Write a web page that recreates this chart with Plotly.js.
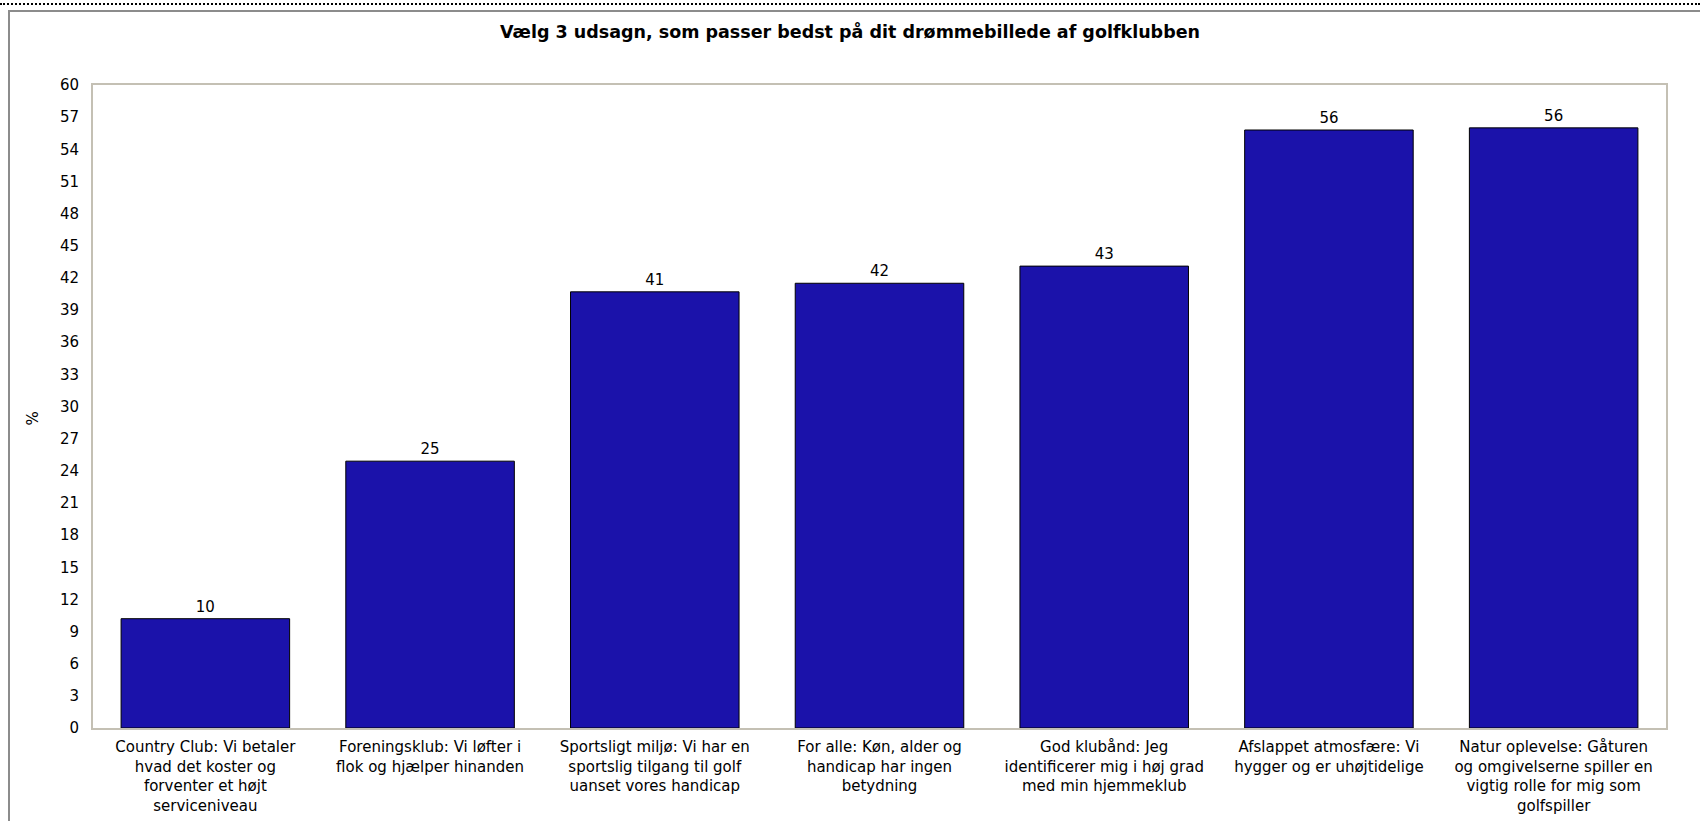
<!DOCTYPE html>
<html>
<head>
<meta charset="utf-8">
<script src="https://cdn.plot.ly/plotly-3.0.1.min.js"></script>
<style>
  html, body { margin: 0; padding: 0; background: #ffffff; }
  #chart { width: 1700px; height: 821px; position: absolute; left: 0; top: 0; }
  .dots { position: absolute; left: 0; top: 3px; width: 1700px; height: 0; border-top: 2px dotted #000; pointer-events: none; }
  .frameTop { position: absolute; left: 9px; top: 10px; width: 1691px; height: 0; border-top: 2px solid #8c8c8c; pointer-events: none; }
  .frameLeft { position: absolute; left: 8px; top: 10px; width: 0; height: 811px; border-left: 2px solid #8c8c8c; pointer-events: none; }
</style>
</head>
<body>
<div id="chart"></div>
<div class="dots"></div>
<div class="frameTop"></div>
<div class="frameLeft"></div>
<script>
const categories = [
  "Country Club: Vi betaler<br>hvad det koster og<br>forventer et højt<br>serviceniveau",
  "Foreningsklub: Vi løfter i<br>flok og hjælper hinanden",
  "Sportsligt miljø: Vi har en<br>sportslig tilgang til golf<br>uanset vores handicap",
  "For alle: Køn, alder og<br>handicap har ingen<br>betydning",
  "God klubånd: Jeg<br>identificerer mig i høj grad<br>med min hjemmeklub",
  "Afslappet atmosfære: Vi<br>hygger og er uhøjtidelige",
  "Natur oplevelse: Gåturen<br>og omgivelserne spiller en<br>vigtig rolle for mig som<br>golfspiller"
];
const values = [10.2, 24.9, 40.7, 41.5, 43.1, 55.8, 56.0];
const chartTitle = "Vælg 3 udsagn, som passer bedst på dit drømmebillede af golfklubben";
const yTitle = "%";

const FONT = "DejaVu Sans, Verdana, sans-serif";

const trace = {
  type: "bar",
  x: categories,
  y: values,
  marker: { color: "#1b12aa", line: { color: "#000000", width: 1 } },
  texttemplate: "%{y:.0f}",
  textposition: "outside",
  textfont: { family: FONT, size: 15, color: "#000" },
  cliponaxis: false,
  hoverinfo: "x+y"
};

const layout = {
  width: 1700,
  height: 821,
  margin: { l: 93, r: 34, t: 85, b: 93 },
  paper_bgcolor: "rgba(0,0,0,0)",
  plot_bgcolor: "#ffffff",
  bargap: 0.25,
  showlegend: false,
  font: { family: FONT, size: 15, color: "#000" },
  title: {
    text: "<b>" + chartTitle + "</b>",
    font: { family: FONT, size: 17.5, color: "#000" },
    x: 0.5, xref: "container", xanchor: "center",
    y: 1 - 32 / 821, yref: "container", yanchor: "middle"
  },
  xaxis: {
    showline: true, linecolor: "#c4c0b4", linewidth: 2, mirror: true,
    showgrid: false, ticks: "", ticklabelstandoff: 4,
    tickfont: { family: FONT, size: 15, color: "#000" },
    tickangle: 0
  },
  yaxis: {
    range: [0, 60], dtick: 3, tick0: 0,
    showline: true, linecolor: "#c4c0b4", linewidth: 2, mirror: true,
    showgrid: false, zeroline: false, ticks: "", ticklabelstandoff: 9,
    tickfont: { family: FONT, size: 15, color: "#000" },
    automargin: false
  },
  annotations: [{
    text: yTitle, textangle: -90, showarrow: false,
    xref: "paper", yref: "paper", x: 0, y: 0.5,
    xanchor: "center", yanchor: "middle", xshift: -61, yshift: -12,
    font: { family: FONT, size: 15, color: "#000" }
  }]
};

Plotly.newPlot("chart", [trace], layout, { displayModeBar: false, staticPlot: true });
</script>
</body>
</html>
